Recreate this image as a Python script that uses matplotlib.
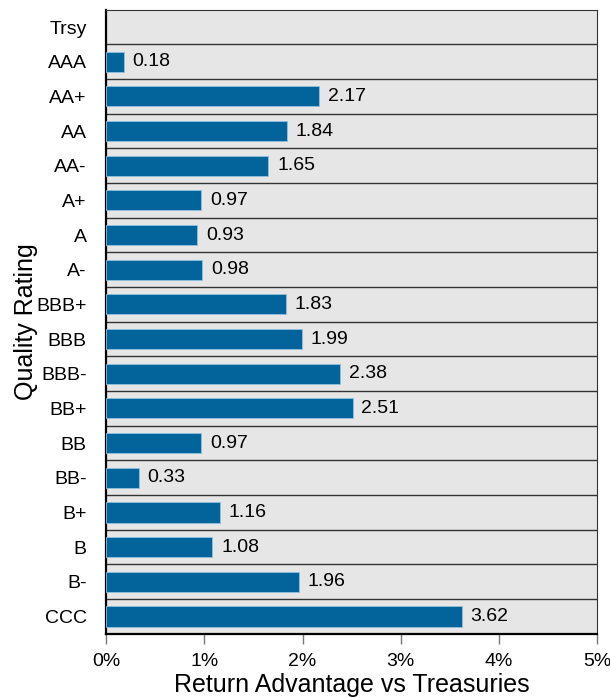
import numpy as np
import matplotlib.pyplot as plt
from matplotlib.ticker import FuncFormatter

plt.rcParams['font.family'] = ['Liberation Sans', 'DejaVu Sans']

ratings = ['Trsy', 'AAA', 'AA+', 'AA', 'AA-', 'A+', 'A', 'A-', 'BBB+', 'BBB',
           'BBB-', 'BB+', 'BB', 'BB-', 'B+', 'B', 'B-', 'CCC']
advantage = [0.0, 0.18, 2.17, 1.84, 1.65, 0.97, 0.93, 0.98, 1.83, 1.99,
             2.38, 2.51, 0.97, 0.33, 1.16, 1.08, 1.96, 3.62]
xticks = [0, 1, 2, 3, 4, 5]

fig = plt.figure(figsize=(6.1, 6.98), dpi=100)
ax = fig.add_axes([0.174, 0.092, 0.805, 0.894])
ax.set_facecolor('#e6e6e6')

y = np.arange(len(ratings))
# Trsy is the baseline, so no outline for zero-length bars
edges = ['#8fc3e0' if v > 0 else 'none' for v in advantage]
ax.barh(y, advantage, height=0.58, color='#03649b', edgecolor=edges,
        linewidth=0.6, zorder=3)

# value labels
for yi, v in zip(y, advantage):
    if v > 0:
        ax.text(v + 0.09, yi, f'{v:.2f}', va='center', ha='left',
                fontsize=14, zorder=4)

# row separators
for b in y[:-1] + 0.5:
    ax.axhline(b, color='#333333', linewidth=1.0, zorder=2)

ax.set_ylim(len(ratings) - 0.5, -0.5)
ax.set_xlim(0, 5)
ax.set_yticks(y)
ax.set_yticklabels(ratings, fontsize=14)
ax.set_xticks(xticks)
ax.xaxis.set_major_formatter(FuncFormatter(lambda v, p: f'{v:.0f}%'))
ax.tick_params(axis='x', labelsize=14, length=7, width=1, color='#777777',
               direction='out', pad=7)
ax.tick_params(axis='y', length=0, pad=14)

ax.set_ylabel('Quality Rating', fontsize=18, labelpad=-1)
ax.set_xlabel('Return Advantage vs Treasuries', fontsize=18, labelpad=2)

ax.spines['left'].set_linewidth(1.6)
ax.spines['bottom'].set_linewidth(1.6)
ax.spines['top'].set_color('#333333')
ax.spines['right'].set_color('#333333')

fig.savefig('out.png', dpi=100)
